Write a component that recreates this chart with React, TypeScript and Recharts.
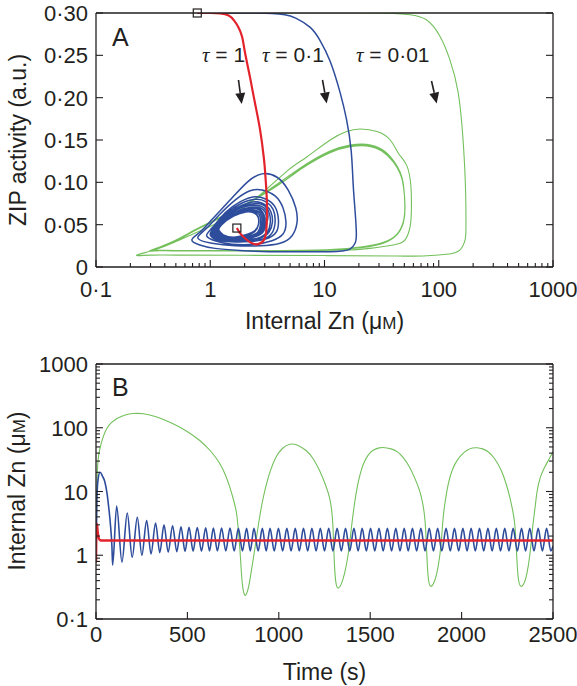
import React from "react";
import { ComposedChart, Line, XAxis, YAxis, ReferenceDot } from "recharts";

const INK = "#231f20";
const RED = "#e3232b";
const BLUE = "#2e4c9c";
const GREEN = "#74c05c";
const FONT = "'Liberation Sans', Arial, Helvetica, sans-serif";

// ---- axis ticks ----
const logTicks = [
  0.1, 0.2, 0.3, 0.4, 0.5, 0.6, 0.7, 0.8, 0.9,
  1, 2, 3, 4, 5, 6, 7, 8, 9,
  10, 20, 30, 40, 50, 60, 70, 80, 90,
  100, 200, 300, 400, 500, 600, 700, 800, 900, 1000,
];
const logMajors = [0.1, 1, 10, 100, 1000];
const logLabels = ["0·1", "1", "10", "100", "1000"];
const zipTicks = [0, 0.05, 0.1, 0.15, 0.2, 0.25, 0.3];
const zipLabels = ["0", "0·05", "0·10", "0·15", "0·20", "0·25", "0·30"];
const timeTicks = [0, 500, 1000, 1500, 2000, 2500];
const timeLabels = ["0", "500", "1000", "1500", "2000", "2500"];

// ---- panel A: internal Zn (x) vs ZIP activity (y) ----
const redA: [number, number][] = [
  [0.77, 0.3], [1.0, 0.3], [1.22, 0.2995], [1.45, 0.297], [1.62, 0.291], [1.75, 0.284],
  [1.9, 0.272], [2.01, 0.254], [2.23, 0.224], [2.46, 0.194], [2.73, 0.162], [2.95, 0.128],
  [3.03, 0.11], [3.1, 0.09], [3.14, 0.07], [3.13, 0.055], [3.08, 0.041], [2.92, 0.031],
  [2.62, 0.027], [2.32, 0.028], [2.01, 0.034], [1.82, 0.04], [1.71, 0.046],
];

const blueA: [number, number][] = [
  [0.77, 0.3], [1.5, 0.3], [2.5, 0.3], [3.5, 0.2995], [4.5, 0.298], [5.6, 0.294], [7.5, 0.283],
  [9.1, 0.268], [11.2, 0.243], [13.7, 0.206], [15.6, 0.174], [17.1, 0.138], [17.8, 0.099],
  [18.5, 0.067], [19.0, 0.04], [18.5, 0.028], [16.7, 0.021], [14.5, 0.019], [11.2, 0.018],
  [6.1, 0.018], [3.3, 0.018], [1.82, 0.0195], [1.1, 0.022], [0.81, 0.026], [0.69, 0.032],
  // loop 1
  [0.81, 0.041], [1.035, 0.056], [1.49, 0.079], [2.1, 0.1], [2.84, 0.11], [3.84, 0.106],
  [4.8, 0.091], [5.6, 0.07], [5.74, 0.052], [5.2, 0.037], [4.08, 0.028], [2.72, 0.025],
  [1.65, 0.025], [1.035, 0.028], [0.78, 0.034],
  // loop 2
  [0.9, 0.044], [1.19, 0.061], [1.65, 0.079], [2.23, 0.09], [2.84, 0.091], [3.69, 0.084],
  [4.33, 0.07], [4.6, 0.053], [4.33, 0.039], [3.47, 0.031], [2.46, 0.027], [1.55, 0.027],
  [1.1, 0.031], [0.93, 0.037],
  // loop 3
  [1.035, 0.046], [1.35, 0.064], [1.82, 0.077], [2.46, 0.083], [3.1, 0.08], [3.69, 0.071],
  [3.95, 0.056], [3.77, 0.041], [3.05, 0.033], [2.23, 0.03], [1.43, 0.03], [1.1, 0.033], [1.0, 0.038],
  [1.07, 0.046], [1.38, 0.063], [1.86, 0.075], [2.48, 0.08], [3.08, 0.077], [3.55, 0.068],
  [3.7, 0.055], [3.5, 0.041], [2.9, 0.033], [2.1, 0.03], [1.4, 0.03], [1.1, 0.034], [1.02, 0.039],
  // loop 4
  [1.1, 0.047], [1.43, 0.063], [1.9, 0.073], [2.51, 0.077], [3.05, 0.073], [3.4, 0.065],
  [3.5, 0.053], [3.26, 0.041], [2.72, 0.034], [2.01, 0.031], [1.38, 0.031], [1.12, 0.034], [1.05, 0.039],
  [1.14, 0.047], [1.46, 0.063], [1.93, 0.072], [2.51, 0.075], [3.0, 0.072], [3.3, 0.063],
  [3.35, 0.052], [3.15, 0.041], [2.6, 0.034], [1.95, 0.032], [1.35, 0.032], [1.12, 0.035], [1.08, 0.039],
  // loop 5
  [1.18, 0.048], [1.49, 0.063], [1.96, 0.071], [2.51, 0.073], [2.95, 0.07], [3.2, 0.061],
  [3.1, 0.05], [2.84, 0.04], [2.23, 0.034], [1.59, 0.032], [1.22, 0.034], [1.1, 0.039],
  [1.2, 0.048], [1.52, 0.062], [1.98, 0.069], [2.51, 0.071], [2.9, 0.068], [3.1, 0.06],
  [3.02, 0.049], [2.75, 0.04], [2.2, 0.034], [1.57, 0.033], [1.23, 0.035], [1.12, 0.04],
  // loop 6
  [1.22, 0.048], [1.55, 0.061], [2.01, 0.068], [2.51, 0.07], [2.84, 0.066], [3.0, 0.058],
  [2.9, 0.047], [2.62, 0.039], [2.1, 0.034], [1.55, 0.033], [1.24, 0.035], [1.14, 0.04],
  [1.23, 0.049], [1.57, 0.061], [2.03, 0.067], [2.49, 0.069], [2.8, 0.065], [2.92, 0.057],
  [2.84, 0.047], [2.56, 0.039], [2.08, 0.035], [1.55, 0.034], [1.25, 0.036], [1.15, 0.041],
  // loop 7
  [1.24, 0.05], [1.59, 0.061], [2.05, 0.067], [2.46, 0.067], [2.72, 0.064], [2.84, 0.056],
  [2.78, 0.046], [2.51, 0.039], [2.05, 0.035], [1.55, 0.034], [1.27, 0.037], [1.17, 0.041],
  [1.25, 0.05], [1.6, 0.061], [2.05, 0.066], [2.44, 0.066], [2.68, 0.062], [2.76, 0.054],
  [2.7, 0.045], [2.48, 0.039], [2.05, 0.036], [1.57, 0.035], [1.28, 0.037], [1.18, 0.042],
  // loop 8
  [1.27, 0.051], [1.62, 0.061], [2.05, 0.066], [2.41, 0.065], [2.62, 0.06], [2.65, 0.051],
  [2.46, 0.043], [2.05, 0.038], [1.59, 0.035], [1.3, 0.038], [1.19, 0.043],
  // loop 9
  [1.26, 0.05], [1.6, 0.06], [2.05, 0.065], [2.4, 0.064], [2.62, 0.059], [2.64, 0.05],
  [2.46, 0.042], [2.05, 0.037], [1.59, 0.035], [1.3, 0.038], [1.18, 0.044],
];

const greenA: [number, number][] = [
  [0.77, 0.3], [5, 0.3], [20, 0.3], [40, 0.2995], [56, 0.298], [78, 0.292], [103, 0.272],
  [125, 0.245], [148, 0.206], [164, 0.146], [172, 0.087], [173, 0.047], [170, 0.032],
  [153, 0.02], [117, 0.015], [73, 0.013], [43, 0.013], [10, 0.0135], [2, 0.0138],
  [0.6, 0.014], [0.3, 0.014], [0.227, 0.014],
  // first loop (thin, outer)
  [0.34, 0.021], [0.54, 0.032], [0.93, 0.046], [1.58, 0.062], [2.72, 0.085], [4.67, 0.113],
  [7.0, 0.13], [11.2, 0.15], [15.6, 0.16], [20.5, 0.163], [28.8, 0.16], [37.6, 0.15],
  [44.5, 0.134], [52.4, 0.12], [57.1, 0.095], [57.6, 0.067], [56.2, 0.048], [50.7, 0.032],
  [40, 0.026], [25, 0.022], [15.6, 0.02], [5, 0.019], [1.5, 0.019], [0.6, 0.019],
  [0.36, 0.0192], [0.3, 0.0195],
  // second loop
  [0.45, 0.028], [0.67, 0.04], [1.0, 0.052], [1.6, 0.066], [2.7, 0.083], [4.7, 0.104],
  [7, 0.12], [11.2, 0.135], [16.7, 0.142], [23.3, 0.143], [31.7, 0.137], [40, 0.124],
  [46, 0.11], [49.1, 0.095], [50.7, 0.071], [49, 0.052], [43, 0.038], [32.7, 0.028],
  [21.7, 0.023], [11.2, 0.02], [4, 0.019], [1.2, 0.019], [0.5, 0.019], [0.33, 0.0193], [0.3, 0.0195],
  // third loop
  [0.45, 0.029], [0.67, 0.041], [1.0, 0.053], [1.6, 0.067], [2.7, 0.084], [4.7, 0.106],
  [7, 0.122], [11.2, 0.137], [16.7, 0.144], [23.3, 0.145], [31.7, 0.139], [40, 0.126],
  [46, 0.112], [49.1, 0.097], [50.5, 0.072], [48.8, 0.053], [42.5, 0.038], [32.3, 0.029],
  [21.5, 0.024], [11.2, 0.0205], [4, 0.0195], [1.2, 0.0195], [0.5, 0.0195], [0.33, 0.0196], [0.31, 0.0198],
  // last, partial loop
  [0.45, 0.028], [0.67, 0.04], [1.0, 0.052], [1.6, 0.066], [2.7, 0.083], [4.7, 0.104],
  [7, 0.121], [11.2, 0.136], [16.7, 0.143], [23.3, 0.144], [31.7, 0.138], [40, 0.125],
];

const squaresA: [number, number][] = [[0.77, 0.3], [1.71, 0.046]];

// ---- panel B: internal Zn vs time ----
const redB: [number, number][] = [
  [0, 0.77], [2, 2.5], [5, 3.1], [9, 2.4], [14, 1.9], [22, 1.72], [40, 1.7], [2500, 1.7],
];

const blueEdgesB: [number, number][] = [
  [0, 0.77], [5, 8], [12, 16], [35, 17.5], [49, 14], [60, 9.5], [70, 5.5], [80, 2.8], [87, 1.4], [2500, 1.4],
];
const bluePeaksB: [number, number][] = [
  [22, 20], [113, 5.9], [171, 4.6], [226, 3.95], [277, 3.5], [326, 3.2], [372, 3.0], [419, 2.9],
  [465, 2.8], [509, 2.75], [554, 2.72], [600, 2.7], [642, 2.68], [687, 2.67], [733, 2.66],
  [779, 2.65], [824, 2.65], [864, 2.65], [910, 2.65], [952, 2.65], [998, 2.65], [1044, 2.65],
  [1090, 2.65], [1135, 2.65], [1181, 2.65], [1227, 2.65], [1273, 2.65], [1319, 2.65], [1365, 2.65],
  [1411, 2.65], [1456, 2.65], [1502, 2.65], [1548, 2.65], [1594, 2.65], [1640, 2.65], [1686, 2.65],
  [1731, 2.65], [1777, 2.65], [1823, 2.65], [1869, 2.65], [1915, 2.65], [1961, 2.65], [2007, 2.65],
  [2052, 2.65], [2098, 2.65], [2144, 2.65], [2190, 2.65], [2236, 2.65], [2282, 2.65], [2328, 2.65],
  [2373, 2.65], [2419, 2.65], [2465, 2.65],
];
const blueTroughsB: [number, number][] = [
  [91, 0.7], [142, 0.78], [198, 0.93], [251, 1.0], [301, 1.05], [349, 1.1], [395, 1.12], [442, 1.14],
  [487, 1.15], [531, 1.16], [577, 1.16], [621, 1.17], [664, 1.17], [710, 1.17], [756, 1.17],
  [801, 1.17], [844, 1.17], [887, 1.17], [931, 1.17], [975, 1.17], [1021, 1.17], [1067, 1.17],
  [1112, 1.17], [1158, 1.17], [1204, 1.17], [1250, 1.17], [1296, 1.17], [1342, 1.17], [1388, 1.17],
  [1434, 1.17], [1479, 1.17], [1525, 1.17], [1571, 1.17], [1617, 1.17], [1663, 1.17], [1708, 1.17],
  [1754, 1.17], [1800, 1.17], [1846, 1.17], [1892, 1.17], [1938, 1.17], [1984, 1.17], [2030, 1.17],
  [2075, 1.17], [2121, 1.17], [2167, 1.17], [2213, 1.17], [2259, 1.17], [2305, 1.17], [2350, 1.17],
  [2396, 1.17], [2442, 1.17], [2488, 1.17],
];

const greenB: [number, number][] = [
  [0, 0.77], [3, 5], [5.5, 19], [12, 35], [22, 49], [40, 75], [60, 101], [85, 122], [115, 141],
  [160, 160], [202, 168], [257, 170], [330, 150], [421, 117], [500, 88], [569, 64], [630, 43],
  [678, 28], [710, 18], [733, 11.6], [755, 7], [771, 4.6], [780, 2.2], [788, 1.2], [794, 0.6],
  [800, 0.35], [808, 0.25], [818, 0.22], [835, 0.3], [853, 0.65], [868, 1.2], [881, 2.2],
  [898, 4.5], [914, 8], [935, 14], [952, 21], [985, 36], [1020, 49], [1061, 57], [1100, 55],
  [1154, 44], [1190, 33], [1225, 21], [1255, 13], [1280, 8], [1290, 5], [1296, 3.2], [1300, 1.5],
  [1305, 0.6], [1312, 0.35], [1322, 0.29], [1340, 0.33], [1360, 0.5], [1380, 1.0], [1392, 2],
  [1400, 3.2], [1414, 6.5], [1428, 11.7], [1445, 19], [1461, 27], [1488, 38], [1515, 45],
  [1550, 49], [1581, 49], [1615, 47], [1647, 43], [1680, 35], [1718, 24], [1745, 16], [1772, 10.4],
  [1788, 6.5], [1800, 3.9], [1806, 1.8], [1812, 0.7], [1818, 0.4], [1828, 0.31], [1845, 0.34],
  [1865, 0.5], [1882, 1.0], [1892, 2.0], [1898, 3.9], [1910, 7], [1926, 13.5], [1950, 23],
  [1975, 31], [2000, 38], [2030, 45], [2060, 48.5], [2084, 49], [2115, 47], [2144, 43], [2180, 34],
  [2221, 21], [2245, 13], [2265, 8], [2280, 5], [2292, 3.2], [2298, 1.5], [2304, 0.7], [2310, 0.4],
  [2322, 0.31], [2340, 0.34], [2358, 0.5], [2374, 1.0], [2384, 2.0], [2391, 3.2], [2402, 5.5],
  [2412, 10.4], [2430, 17], [2450, 23], [2467, 28], [2485, 35], [2500, 42],
];

const pts = (a: [number, number][]) => a.map(([x, y]) => ({ x, y }));
const blueB = [...blueEdgesB, ...bluePeaksB, ...blueTroughsB].sort((p, q) => p[0] - q[0]);

type Side = "bottom" | "top" | "left" | "right";

// inward ticks, longer for majors; labels only where given
const makeTick = (side: Side, majors: number[], labels: string[] | null, gap: number) => (props: any) => {
  const { x, y, payload } = props;
  const i = majors.indexOf(payload.value);
  const len = i >= 0 ? 7 : 4;
  let x2 = x;
  let y2 = y;
  if (side === "bottom") y2 = y - len;
  if (side === "top") y2 = y + len;
  if (side === "left") x2 = x + len;
  if (side === "right") x2 = x - len;
  let label = null;
  if (labels && i >= 0) {
    label =
      side === "bottom" ? (
        <text x={x} y={y + gap} textAnchor="middle" fontSize={22} fontFamily={FONT} fill={INK}>
          {labels[i]}
        </text>
      ) : (
        <text x={x - gap} y={y + 8} textAnchor="end" fontSize={22} fontFamily={FONT} fill={INK}>
          {labels[i]}
        </text>
      );
  }
  return (
    <g>
      <line x1={x} y1={y} x2={x2} y2={y2} stroke={INK} strokeWidth={1.1} />
      {label}
    </g>
  );
};

const axisLine = { stroke: INK, strokeWidth: 1.3 };

const Square = (props: any) => (
  <rect x={props.cx - 4} y={props.cy - 4} width={8} height={8} fill="none" stroke={INK} strokeWidth={1.2} />
);

const Arrow: React.FC<{ x1: number; y1: number; x2: number; y2: number }> = ({ x1, y1, x2, y2 }) => {
  const dx = x2 - x1;
  const dy = y2 - y1;
  const L = Math.hypot(dx, dy);
  const ux = dx / L;
  const uy = dy / L;
  const bx = x2 - ux * 11;
  const by = y2 - uy * 11;
  return (
    <g>
      <line x1={x1} y1={y1} x2={bx} y2={by} stroke={INK} strokeWidth={1.6} />
      <path d={`M${x2},${y2} L${bx - uy * 5},${by + ux * 5} L${bx + uy * 5},${by - ux * 5} Z`} fill={INK} />
    </g>
  );
};

const Tau: React.FC<{ x: number; y: number; v: string }> = ({ x, y, v }) => (
  <text x={x} y={y} fontSize={21} fontFamily={FONT} fill={INK}>
    <tspan fontFamily="'Liberation Serif', 'DejaVu Serif', serif" fontStyle="italic">τ</tspan>
    {` = ${v}`}
  </text>
);

const ZnTitle: React.FC = () => (
  <>
    Internal Zn (μ<tspan fontSize={17}>M</tspan>)
  </>
);

const App: React.FC = () => (
  <div style={{ position: "absolute", left: 0, top: 0, width: 577, height: 686, background: "#fff" }}>
    <div style={{ position: "absolute", left: 0, top: 0 }}>
      <ComposedChart width={577} height={330} margin={{ top: 12, right: 23, bottom: 23, left: 36 }}>
        <XAxis dataKey="x" type="number" scale="log" domain={[0.1, 1000]} allowDataOverflow ticks={logTicks}
          interval={0} tickSize={0} tickMargin={0} height={40} axisLine={axisLine} tickLine={false}
          tick={makeTick("bottom", logMajors, logLabels, 30)} />
        <XAxis xAxisId="top" orientation="top" type="number" scale="log" domain={[0.1, 1000]} allowDataOverflow
          ticks={logTicks} interval={0} tickSize={0} tickMargin={0} height={1} axisLine={axisLine} tickLine={false}
          tick={makeTick("top", logMajors, null, 0)} />
        <YAxis type="number" domain={[0, 0.3]} allowDataOverflow ticks={zipTicks} interval={0} tickSize={0}
          tickMargin={0} width={60} axisLine={axisLine} tickLine={false}
          tick={makeTick("left", zipTicks, zipLabels, 8)} />
        <YAxis yAxisId="right" orientation="right" type="number" domain={[0, 0.3]} allowDataOverflow ticks={zipTicks}
          interval={0} tickSize={0} tickMargin={0} width={1} axisLine={axisLine} tickLine={false}
          tick={makeTick("right", zipTicks, null, 0)} />
        <Line data={pts(greenA)} dataKey="y" type="natural" stroke={GREEN} strokeWidth={1.1} dot={false}
          activeDot={false} isAnimationActive={false} />
        <Line data={pts(blueA)} dataKey="y" type="natural" stroke={BLUE} strokeWidth={1.5} dot={false}
          activeDot={false} isAnimationActive={false} />
        <Line data={pts(redA)} dataKey="y" type="natural" stroke={RED} strokeWidth={2.2} dot={false}
          activeDot={false} isAnimationActive={false} />
        {squaresA.map(([x, y], i) => (
          <ReferenceDot key={i} x={x} y={y} r={4} ifOverflow="visible" shape={Square} />
        ))}
      </ComposedChart>
    </div>
    <div style={{ position: "absolute", left: 0, top: 330 }}>
      <ComposedChart width={577} height={356} margin={{ top: 33, right: 23, bottom: 27, left: 36 }}>
        <XAxis dataKey="x" type="number" domain={[0, 2500]} allowDataOverflow ticks={timeTicks} interval={0}
          tickSize={0} tickMargin={0} height={40} axisLine={axisLine} tickLine={false}
          tick={makeTick("bottom", timeTicks, timeLabels, 23)} />
        <XAxis xAxisId="top" orientation="top" type="number" domain={[0, 2500]} allowDataOverflow ticks={timeTicks}
          interval={0} tickSize={0} tickMargin={0} height={1} axisLine={axisLine} tickLine={false}
          tick={makeTick("top", timeTicks, null, 0)} />
        <YAxis type="number" scale="log" domain={[0.1, 1000]} allowDataOverflow ticks={logTicks} interval={0}
          tickSize={0} tickMargin={0} width={60} axisLine={axisLine} tickLine={false}
          tick={makeTick("left", logMajors, logLabels, 8)} />
        <YAxis yAxisId="right" orientation="right" type="number" scale="log" domain={[0.1, 1000]} allowDataOverflow
          ticks={logTicks} interval={0} tickSize={0} tickMargin={0} width={1} axisLine={axisLine} tickLine={false}
          tick={makeTick("right", logMajors, null, 0)} />
        <Line data={pts(greenB)} dataKey="y" type="basis" stroke={GREEN} strokeWidth={1.1} dot={false}
          activeDot={false} isAnimationActive={false} />
        <Line data={pts(blueB)} dataKey="y" type="monotone" stroke={BLUE} strokeWidth={1.6} dot={false}
          activeDot={false} isAnimationActive={false} />
        <Line data={pts(redB)} dataKey="y" type="monotone" stroke={RED} strokeWidth={2.4} dot={false}
          activeDot={false} isAnimationActive={false} />
      </ComposedChart>
    </div>
    <svg width={577} height={686} style={{ position: "absolute", left: 0, top: 0, pointerEvents: "none" }}>
      <text x={112} y={46} fontSize={25} fontFamily={FONT} fill={INK}>A</text>
      <text x={112} y={396} fontSize={25} fontFamily={FONT} fill={INK}>B</text>
      <Tau x={202} y={62} v="1" />
      <Tau x={262} y={62} v="0·1" />
      <Tau x={356} y={62} v="0·01" />
      <Arrow x1={238.5} y1={80} x2={241.7} y2={104} />
      <Arrow x1={322.5} y1={80} x2={326.7} y2={103.5} />
      <Arrow x1={431.5} y1={81} x2={436.7} y2={103.5} />
      <text x={324.5} y={329} textAnchor="middle" fontSize={23} fontFamily={FONT} fill={INK}><ZnTitle /></text>
      <text x={324.5} y={680} textAnchor="middle" fontSize={23} fontFamily={FONT} fill={INK}>Time (s)</text>
      <text transform="translate(26,140) rotate(-90)" textAnchor="middle" fontSize={23} fontFamily={FONT} fill={INK}>
        ZIP activity (a.u.)
      </text>
      <text transform="translate(25,491) rotate(-90)" textAnchor="middle" fontSize={23} fontFamily={FONT} fill={INK}>
        <ZnTitle />
      </text>
    </svg>
  </div>
);

export default App;
